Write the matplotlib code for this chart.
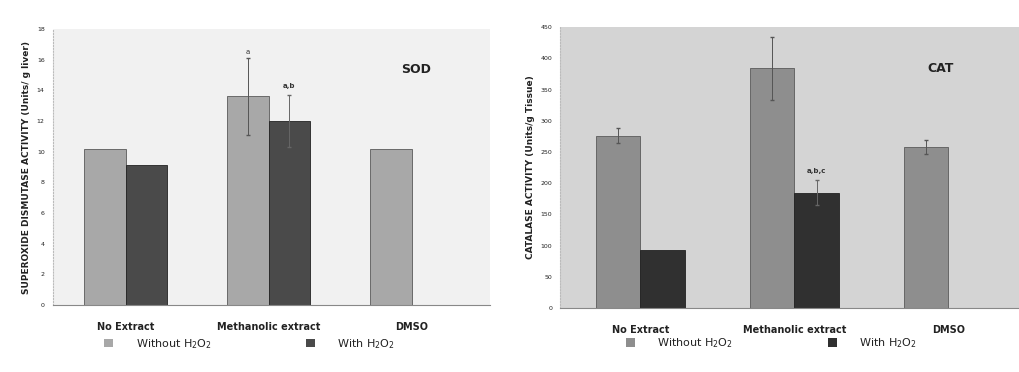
import matplotlib
matplotlib.use("Agg")
import matplotlib.pyplot as plt
import numpy as np
from matplotlib.patches import Patch

# groups and series
groups = ["No Extract", "Methanolic extract", "DMSO"]
series = ["Without H$_2$O$_2$", "With H$_2$O$_2$"]

# SOD (Units/ g liver)
sod_without = [10.2, 13.6, 10.2]
sod_without_err = [0.0, 2.5, 0.0]
sod_with = [9.1, 12.0, np.nan]
sod_with_err = [0.0, 1.7, 0.0]
sod_lab_without = ["", "a", ""]
sod_lab_with = ["", "a,b", ""]

# CAT (Units/g Tissue)
cat_without = [276, 384, 258]
cat_without_err = [12, 50, 12]
cat_with = [93, 185, np.nan]
cat_with_err = [0, 20, 0]
cat_lab_without = ["", "", ""]
cat_lab_with = ["", "a,b,c", ""]

plt.rcParams['font.family'] = ['DejaVu Sans']

fig = plt.figure(figsize=(10.19, 3.72), dpi=100)
ax1 = fig.add_axes([0.052, 0.180, 0.429, 0.742])
ax2 = fig.add_axes([0.550, 0.172, 0.450, 0.755])


def draw(ax, wo, wo_err, wi, wi_err, lab_wo, lab_wi, ymax, ystep, ylabel, title,
         c_wo, c_wi, bg, xr, leg_x, leg_y, colsp):
    x = np.arange(len(groups))
    w = 0.29
    ax.set_facecolor(bg)
    ax.bar(x - w / 2, wo, w, color=c_wo, edgecolor="#5a5a5a", linewidth=0.6)
    ax.bar(x + w / 2, wi, w, color=c_wi, edgecolor="#222222", linewidth=0.6)
    for i in range(len(groups)):
        if wo_err[i] > 0:
            ax.errorbar(x[i] - w / 2, wo[i], yerr=wo_err[i], color="#555555",
                        lw=0.7, ls=":", capsize=1.5)
        if not np.isnan(wi[i]) and wi_err[i] > 0:
            ax.errorbar(x[i] + w / 2, wi[i], yerr=wi_err[i], color="#666666",
                        lw=0.7, ls=":", capsize=1.5)
        if lab_wo[i]:
            ax.text(x[i] - w / 2, wo[i] + wo_err[i] + ymax * 0.01, lab_wo[i],
                    ha="center", va="bottom", fontsize=5, color="#333333")
        if lab_wi[i]:
            ax.text(x[i] + w / 2, wi[i] + wi_err[i] + ymax * 0.02, lab_wi[i],
                    ha="center", va="bottom", fontsize=5, fontweight="bold",
                    color="#333333")
    ax.set_xlim(*xr)
    ax.set_ylim(0, ymax)
    ax.set_yticks(np.arange(0, ymax + 1e-9, ystep))
    ax.tick_params(axis="y", labelsize=4.5, length=0, pad=6, labelcolor="#222222")
    ax.set_xticks(x)
    ax.set_xticklabels(groups, fontsize=7, fontweight="bold", color="#222222")
    ax.tick_params(axis="x", length=0, pad=12)
    for s in ["top", "right"]:
        ax.spines[s].set_visible(False)
    ax.spines["left"].set_color("#bbbbbb")
    ax.spines["left"].set_linestyle(":")
    ax.spines["bottom"].set_color("#888888")
    ax.spines["bottom"].set_linewidth(0.8)
    ax.set_ylabel(ylabel, fontsize=6.5, fontweight="bold", color="#222222", labelpad=4)
    ax.text(0.83, 0.84, title, transform=ax.transAxes, fontsize=9,
            fontweight="bold", color="#222222", ha="center")
    handles = [Patch(facecolor=c_wo, edgecolor="none"),
               Patch(facecolor=c_wi, edgecolor="none")]
    ax.legend(handles, series, loc="center", bbox_to_anchor=(leg_x, leg_y),
              ncol=2, frameon=False, fontsize=8, handlelength=0.8,
              handleheight=0.8, handletextpad=2.0, columnspacing=colsp,
              labelcolor="#222222")


draw(ax1, sod_without, sod_without_err, sod_with, sod_with_err,
     sod_lab_without, sod_lab_with, 18, 2,
     "SUPEROXIDE DISMUTASE ACTIVITY (Units/ g liver)", "SOD",
     "#a8a8a8", "#4a4a4a", "#f1f1f1", (-0.51, 2.55), 0.45, -0.14, 8.5)
draw(ax2, cat_without, cat_without_err, cat_with, cat_with_err,
     cat_lab_without, cat_lab_with, 450, 50,
     "CATALASE ACTIVITY (Units/g Tissue)", "CAT",
     "#8e8e8e", "#303030", "#d4d4d4", (-0.52, 2.46), 0.46, -0.125, 8.5)

fig.savefig("out.png", dpi=100)
